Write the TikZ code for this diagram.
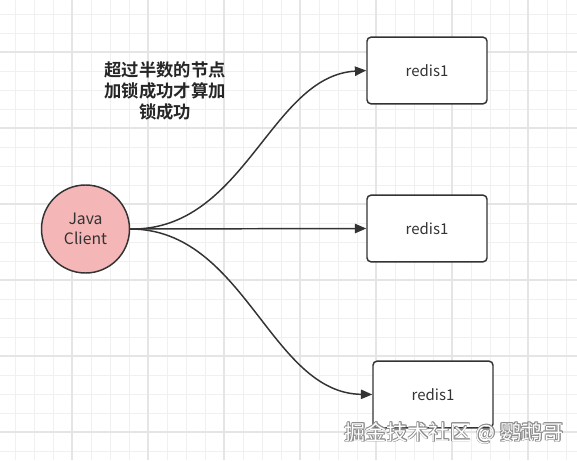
\documentclass[tikz,border=0pt]{standalone}
\usepackage{fontspec}
\setmainfont{Noto Sans CJK SC}
\newfontfamily\cjkb[BoldFont={Noto Sans CJK SC Bold}]{Noto Sans CJK SC}
\usetikzlibrary{arrows.meta}
\definecolor{gridminor}{HTML}{F0F0F0}
\definecolor{gridmajor}{HTML}{E5E5E5}
\definecolor{edge}{HTML}{333333}
\definecolor{txt}{HTML}{333333}
\definecolor{pinkfill}{HTML}{F4B6B6}
\begin{document}
\begin{tikzpicture}[x=0.75pt,y=-0.75pt,
  server/.style={draw=edge,line width=1.1pt,rounded corners=3pt,fill=white,minimum width=90pt,minimum height=50pt,inner sep=0pt,font=\fontsize{11.2}{13}\selectfont,text=txt},
  client/.style={circle,draw=edge,line width=1.1pt,fill=pinkfill,minimum size=66pt,inner sep=0pt,align=center,font=\fontsize{11.8}{15}\selectfont,text=txt},
  conn/.style={draw=edge,line width=1.1pt,-{Triangle[length=8.5pt,width=7pt]}},
  wm/.style={font=\fontsize{15.8}{18}\selectfont,anchor=west}]
\useasboundingbox (0,0) rectangle (577,460);
\fill[white] (0,0) rectangle (577,460);
% grid
\foreach \x in {15,34,...,577} \draw[gridminor,line width=0.6pt] (\x,0) -- (\x,460);
\foreach \y in {14,33,...,460} \draw[gridminor,line width=0.6pt] (0,\y) -- (577,\y);
\foreach \x in {72,148,...,577} \draw[gridmajor,line width=0.8pt] (\x,0) -- (\x,460);
\foreach \y in {52,128,...,460} \draw[gridmajor,line width=0.8pt] (0,\y) -- (577,\y);
% nodes
\node[client] (jc) at (85.5,229) {Java\\Client};
\node[server] (r1) at (427,70.5) {redis1};
\node[server] (r2) at (427,228.5) {redis1};
\node[server] (r3) at (433,394.5) {redis1};
\node[align=center,font=\cjkb\bfseries\fontsize{13}{16}\selectfont,text=black!85] (lbl) at (165,91) {超过半数的节点\\加锁成功才算加\\锁成功};
% connectors
\draw[conn] (jc.east) .. controls (245,231) and (270,76) .. (r1.west);
\draw[conn] (jc.east) -- (r2.west);
\draw[conn] (jc.east) .. controls (245,229) and (270,393) .. (r3.west);
% watermark
\foreach \dx/\dy in {-0.8/0,0.8/0,0/-0.8,0/0.8,0.6/0.6,-0.6/-0.6,0.6/-0.6,-0.6/0.6}
  \node[wm,text=black!45] at (340+\dx,433+\dy) {掘金技术社区 @ 鹦鹉哥};
\node[wm,text=white] (wmk) at (340,433) {掘金技术社区 @ 鹦鹉哥};
\end{tikzpicture}
\end{document}
